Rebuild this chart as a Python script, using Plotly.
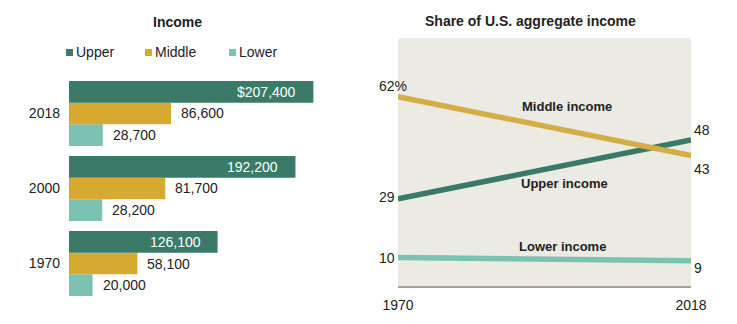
import plotly.graph_objects as go

# Left panel: median household income by tier
years = ["1970", "2000", "2018"]
upper_income = [126100, 192200, 207400]
middle_income = [58100, 81700, 86600]
lower_income = [20000, 28200, 28700]

# Right panel: share of U.S. aggregate income
share_years = [1970, 2018]
upper_share = [29, 48]
middle_share = [62, 43]
lower_share = [10, 9]

C_UPPER = "#3b7a68"
C_MIDDLE = "#d6aa30"
C_LOWER = "#7cc2b3"
C_MIDDLE_LINE = "#d4ad45"
TXT = "#222222"
FONT = "Liberation Sans"

W, H = 737, 324


def px_x(p):
    return p / W


def px_y(p):
    return 1 - p / H


fig = go.Figure()

# Grouped horizontal bars: first trace sits lowest in each group
for name, vals, col in [("Lower", lower_income, C_LOWER),
                        ("Middle", middle_income, C_MIDDLE),
                        ("Upper", upper_income, C_UPPER)]:
    fig.add_trace(go.Bar(y=years, x=vals, name=name, orientation="h",
                         marker=dict(color=col, line=dict(width=0)),
                         xaxis="x", yaxis="y", showlegend=False,
                         hoverinfo="skip"))

# Share lines
for vals, col in [(lower_share, C_LOWER), (upper_share, C_UPPER),
                  (middle_share, C_MIDDLE_LINE)]:
    fig.add_trace(go.Scatter(x=share_years, y=vals, mode="lines",
                             line=dict(color=col, width=5.5),
                             xaxis="x2", yaxis="y2", showlegend=False,
                             hoverinfo="skip"))

bargap = 10 / 75
bw = (1 - bargap) / 3
ann = []

# Bar value labels
for i, y in enumerate(years):
    u = upper_income[i]
    txt = f"${u:,}" if y == "2018" else f"{u:,}"
    ann.append(dict(x=u, y=i + bw, xref="x", yref="y", text=txt,
                    xanchor="right", yanchor="middle", xshift=-15,
                    showarrow=False,
                    font=dict(color="white", size=14, family=FONT)))
    for off, vals in [(0, middle_income), (-bw, lower_income)]:
        v = vals[i]
        ann.append(dict(x=v, y=i + off, xref="x", yref="y", text=f"{v:,}",
                        xanchor="left", yanchor="middle", xshift=8,
                        showarrow=False,
                        font=dict(color=TXT, size=14, family=FONT)))

# Legend entries for the bar panel
shapes = []
for name, col, sq_x, tx_x in [("Upper", C_UPPER, 66, 74),
                              ("Middle", C_MIDDLE, 145, 153),
                              ("Lower", C_LOWER, 229, 237)]:
    shapes.append(dict(type="rect", xref="paper", yref="paper",
                       x0=px_x(sq_x), x1=px_x(sq_x + 7),
                       y0=px_y(56), y1=px_y(49),
                       fillcolor=col, line=dict(width=0)))
    ann.append(dict(x=px_x(tx_x), y=px_y(52.5), xref="paper", yref="paper",
                    text=name, xanchor="left", yanchor="middle",
                    showarrow=False,
                    font=dict(color=TXT, size=14, family=FONT)))

# Panel titles
ann.append(dict(x=px_x(177), y=px_y(22), xref="paper", yref="paper",
                text="<b>Income</b>", showarrow=False,
                xanchor="center", yanchor="middle",
                font=dict(color=TXT, size=14, family=FONT)))
ann.append(dict(x=px_x(530), y=px_y(21), xref="paper", yref="paper",
                text="<b>Share of U.S. aggregate income</b>", showarrow=False,
                xanchor="center", yanchor="middle",
                font=dict(color=TXT, size=14, family=FONT)))

# Background panel for the share chart
shapes.append(dict(type="rect", xref="x2 domain", yref="y2 domain",
                   x0=0, x1=1, y0=0, y1=1, fillcolor="#ecebe3",
                   line=dict(width=0), layer="below"))


# End-point labels of the share lines
def end_labels(vals, ls, rs, pct=False):
    out = []
    t0 = f"{vals[0]}%" if pct else f"{vals[0]}"
    out.append(dict(x=share_years[0], y=vals[0], xref="x2", yref="y2",
                    text=t0, xanchor="left", yanchor="middle",
                    xshift=-21, yshift=ls, showarrow=False,
                    font=dict(color=TXT, size=14, family=FONT)))
    out.append(dict(x=share_years[1], y=vals[1], xref="x2", yref="y2",
                    text=f"{vals[1]}", xanchor="left", yanchor="middle",
                    xshift=1, yshift=rs, showarrow=False,
                    font=dict(color=TXT, size=14, family=FONT)))
    return out


ann += end_labels(middle_share, 11, -13, pct=True)
ann += end_labels(upper_share, 2, 10)
ann += end_labels(lower_share, 0, -7)

for label, lx, ly in [("Middle income", 1997.7, 59),
                      ("Upper income", 1997.2, 34.1),
                      ("Lower income", 1997.0, 13.7)]:
    ann.append(dict(x=lx, y=ly, xref="x2", yref="y2", text=f"<b>{label}</b>",
                    xanchor="center", yanchor="middle", showarrow=False,
                    font=dict(color=TXT, size=13, family=FONT)))

fig.update_layout(
    width=W, height=H,
    margin=dict(l=0, r=0, t=0, b=0, autoexpand=False),
    paper_bgcolor="white", plot_bgcolor="rgba(0,0,0,0)",
    barmode="group", bargap=bargap, bargroupgap=0,
    font=dict(family=FONT, color=TXT, size=14),
    xaxis=dict(domain=[px_x(69), px_x(340)], range=[0, 230000],
               visible=False, fixedrange=True, automargin=False),
    yaxis=dict(domain=[px_y(301), px_y(76)], type="category",
               categoryorder="array", categoryarray=years,
               range=[-0.5, 2.5], showgrid=False, zeroline=False,
               showline=False, ticks="", ticklabelstandoff=8,
               automargin=False,
               tickfont=dict(size=14, color=TXT, family=FONT)),
    xaxis2=dict(domain=[px_x(398), px_x(691)], range=[1970, 2018],
                anchor="y2", tickvals=share_years,
                ticktext=[str(v) for v in share_years],
                showgrid=False, zeroline=False, showline=True,
                linecolor="#a0a0a0", linewidth=1.5, ticks="",
                ticklabelstandoff=5, automargin=False,
                tickfont=dict(size=14, color=TXT, family=FONT)),
    yaxis2=dict(domain=[px_y(286), px_y(38)], range=[0.8, 81],
                anchor="x2", visible=False, automargin=False),
    annotations=ann, shapes=shapes,
)

fig.write_html("out.html")
